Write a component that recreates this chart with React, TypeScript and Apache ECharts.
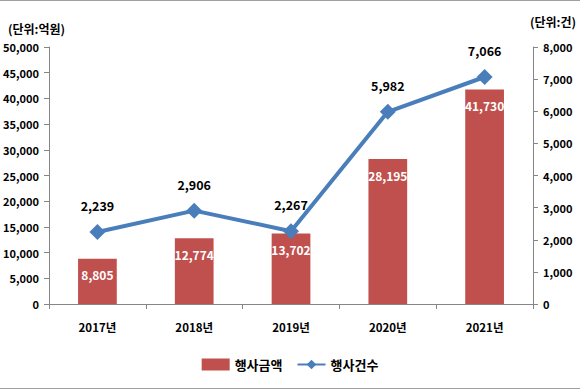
import React, { useEffect, useRef } from "react";
import * as echarts from "echarts";

const categories = ["2017년", "2018년", "2019년", "2020년", "2021년"];
const amountValues = [8805, 12774, 13702, 28195, 41730];
const countValues = [2239, 2906, 2267, 5982, 7066];
const amountName = "행사금액";
const countName = "행사건수";
const leftUnit = "(단위:억원)";
const rightUnit = "(단위:건)";

const FONT = "'Noto Sans CJK KR', 'Noto Sans', sans-serif";

export default function App() {
  const ref = useRef<HTMLDivElement>(null);
  useEffect(() => {
    if (!ref.current) return;
    const chart = echarts.init(ref.current, null, { renderer: "svg" });
    const fmt = (v: number) => v.toLocaleString("en-US");
    chart.setOption({
      animation: false,
      backgroundColor: "#fff",
      textStyle: { fontFamily: FONT },
      grid: { left: 46, right: 47, top: 47, bottom: 86 },
      graphic: [
        { type: "line", shape: { x1: 0, y1: 0.5, x2: 580, y2: 0.5 }, style: { stroke: "#a0a0a0", lineWidth: 1 } },
        { type: "line", shape: { x1: 0, y1: 388.5, x2: 580, y2: 388.5 }, style: { stroke: "#a0a0a0", lineWidth: 1 } },
        { type: "text", left: 8, top: 22, style: { text: leftUnit, font: `bold 12px ${FONT}`, fill: "#000" } },
        { type: "text", left: 530, top: 15, style: { text: rightUnit, font: `bold 12px ${FONT}`, fill: "#000" } },
      ],
      legend: {
        bottom: 14,
        left: "center",
        itemWidth: 28,
        itemHeight: 12,
        itemGap: 14,
        textStyle: { fontSize: 13, fontWeight: "bold", color: "#000", fontFamily: FONT },
        data: [
          { name: amountName, icon: "rect" },
          { name: countName },
        ],
      },
      xAxis: {
        type: "category",
        data: categories,
        axisLine: { lineStyle: { color: "#868686" } },
        axisTick: { show: true, alignWithLabel: false, lineStyle: { color: "#868686" }, length: 5 },
        axisLabel: { color: "#000", fontWeight: "bold", fontSize: 11.5, margin: 17, fontFamily: FONT },
      },
      yAxis: [
        {
          type: "value",
          min: 0,
          max: 50000,
          interval: 5000,
          axisLine: { show: true, lineStyle: { color: "#868686" } },
          axisTick: { show: true, lineStyle: { color: "#868686" }, length: 5 },
          splitLine: { show: false },
          axisLabel: { color: "#000", fontWeight: "bold", fontSize: 11, margin: 10, formatter: fmt, fontFamily: FONT },
        },
        {
          type: "value",
          min: 0,
          max: 8000,
          interval: 1000,
          position: "right",
          axisLine: { show: true, lineStyle: { color: "#868686" } },
          axisTick: { show: true, lineStyle: { color: "#868686" }, length: 5 },
          splitLine: { show: false },
          axisLabel: { color: "#000", fontWeight: "bold", fontSize: 11, margin: 10, formatter: fmt, fontFamily: FONT },
        },
      ],
      series: [
        {
          name: amountName,
          type: "bar",
          data: amountValues,
          barWidth: "40%",
          itemStyle: { color: "#c0504d" },
          label: {
            show: true,
            position: "insideTop",
            distance: 10,
            color: "#fff",
            fontWeight: "bold",
            fontSize: 12,
            formatter: (p: any) => fmt(p.value),
            fontFamily: FONT,
          },
        },
        {
          name: countName,
          type: "line",
          yAxisIndex: 1,
          data: countValues,
          symbol: "diamond",
          symbolSize: 16,
          lineStyle: { color: "#4a7ebb", width: 4 },
          itemStyle: { color: "#4a7ebb" },
          label: {
            show: true,
            position: "top",
            distance: 12,
            color: "#000",
            fontWeight: "bold",
            fontSize: 12.5,
            formatter: (p: any) => fmt(p.value),
            fontFamily: FONT,
          },
        },
      ],
    });
    return () => chart.dispose();
  }, []);
  return (
    <div
      ref={ref}
      style={{ position: "fixed", left: 0, top: 0, width: 580, height: 390 }}
    />
  );
}
